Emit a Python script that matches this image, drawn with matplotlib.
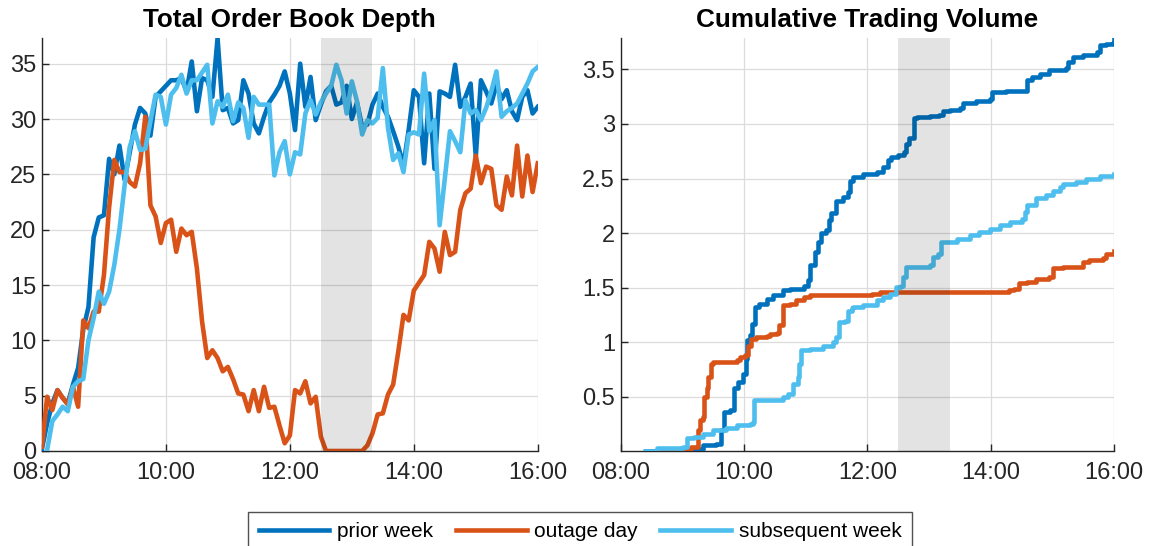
import numpy as np
import matplotlib
matplotlib.use('Agg')
from matplotlib import pyplot as plt

plt.rcParams['font.family'] = ['Liberation Sans', 'DejaVu Sans']

# ---- data: order book depth, 5 minute grid 08:00-16:00 (minutes after 08:00)
depth_minutes = np.arange(0, 481, 5)

prior_week_depth = [
    0.2, 2.5, 4.3, 5.5, 4.8, 4.3, 6.0, 7.5, 11.0, 13.0,
    19.3, 21.1, 21.3, 26.4, 25.0, 27.6, 24.5, 27.0, 29.5, 31.0,
    30.5, 28.5, 32.0, 32.5, 33.0, 33.5, 33.5, 33.7, 32.5, 35.2,
    30.7, 33.7, 33.5, 32.0, 37.3, 30.8, 31.0, 29.6, 29.9, 33.5,
    32.3, 29.6, 28.7, 30.2, 31.5, 32.2, 33.0, 34.3, 32.3, 29.0,
    35.0, 31.1, 33.8, 29.9, 31.3, 32.5, 33.0, 31.3, 31.5, 33.0,
    30.0, 31.5, 29.3, 29.5, 31.3, 32.3, 31.1, 30.2, 28.9, 27.5,
    25.8, 29.0, 32.6, 32.0, 26.0, 32.3, 25.5, 32.5, 32.3, 32.0,
    34.9, 31.1, 32.0, 33.2, 26.6, 33.5, 32.5, 31.4, 33.1, 31.8,
    32.6, 30.7, 29.9, 32.0, 32.6, 30.5, 31.1]

outage_day_depth = [
    0.4, 4.9, 3.7, 5.5, 4.8, 4.2, 5.8, 4.0, 11.8, 11.1,
    12.6, 12.6, 15.9, 22.0, 26.3, 25.2, 25.2, 24.3, 23.9, 26.0,
    30.2, 22.2, 21.2, 18.8, 20.6, 20.9, 18.0, 20.1, 19.5, 19.8,
    16.5, 11.7, 8.4, 9.1, 8.4, 7.2, 7.6, 6.5, 5.2, 5.1,
    3.6, 5.5, 3.6, 5.8, 3.9, 4.0, 2.3, 0.7, 1.4, 5.5,
    5.2, 6.3, 4.3, 4.9, 1.3, 0.0, 0.0, 0.0, 0.0, 0.0,
    0.0, 0.0, 0.0, 0.5, 1.6, 3.3, 3.4, 5.1, 6.0, 9.0,
    12.3, 11.8, 14.5, 15.2, 15.9, 18.9, 18.3, 16.2, 19.8, 17.7,
    18.0, 21.8, 23.3, 23.7, 26.7, 24.2, 25.7, 25.5, 22.2, 21.8,
    24.8, 23.1, 27.6, 23.0, 26.7, 23.4, 26.0]

subsequent_week_depth = [
    np.nan, 0.1, 2.7, 3.3, 4.0, 3.6, 5.8, 6.3, 6.5, 10.0,
    12.0, 14.4, 13.3, 14.4, 16.8, 20.0, 24.0, 27.5, 28.9, 27.2,
    27.3, 29.8, 32.2, 32.0, 29.5, 32.2, 32.8, 34.0, 32.3, 33.5,
    33.5, 34.2, 34.9, 29.6, 31.6, 31.1, 32.2, 29.8, 31.5, 31.0,
    28.3, 32.0, 31.3, 31.3, 31.3, 24.9, 27.0, 28.0, 25.0, 27.0,
    26.8, 30.5, 31.7, 30.4, 31.5, 32.3, 33.0, 34.9, 33.5, 30.5,
    33.4, 31.6, 28.6, 29.9, 29.6, 30.1, 34.6, 29.2, 26.3, 26.9,
    25.2, 28.6, 28.8, 28.6, 34.1, 28.9, 29.9, 20.4, 24.6, 28.9,
    28.0, 27.0, 31.7, 30.5, 30.8, 29.9, 31.0, 32.5, 34.3, 30.2,
    30.7, 31.0, 31.4, 32.3, 33.2, 34.3, 34.7]

# ---- data: cumulative trading volume (minutes after 08:00, volume)
prior_week_t = [25, 64, 80, 93, 98, 101, 106, 110, 114, 119, 122, 123, 126, 128,
                131, 135, 142, 148, 158, 165, 178, 182, 184, 189, 192, 195, 200,
                203, 205, 210, 216, 221, 223, 226, 236, 249, 255, 260, 263, 270,
                276, 278, 281, 285, 288, 301, 310, 314, 320, 330, 333, 346, 359,
                361, 375, 391, 395, 400, 408, 417, 433, 435, 440, 450, 463, 466,
                472, 479, 480]
prior_week_vol = [0.005, 0.02, 0.06, 0.07, 0.2, 0.36, 0.38, 0.58, 0.64, 0.71,
                  0.85, 1.02, 1.07, 1.17, 1.32, 1.355, 1.4, 1.43, 1.48, 1.49,
                  1.52, 1.57, 1.71, 1.83, 1.92, 2.0, 2.03, 2.12, 2.18, 2.29,
                  2.33, 2.38, 2.48, 2.51, 2.54, 2.56, 2.61, 2.67, 2.70, 2.72,
                  2.74, 2.82, 2.87, 3.05, 3.06, 3.07, 3.08, 3.12, 3.13, 3.15,
                  3.19, 3.21, 3.23, 3.29, 3.30, 3.30, 3.40, 3.43, 3.46, 3.49,
                  3.51, 3.57, 3.61, 3.63, 3.66, 3.72, 3.73, 3.74, 3.78]

outage_day_t = [27, 64, 69, 75, 77, 80, 81, 84, 85, 88, 90, 106, 113, 116, 121,
                124, 127, 132, 142, 145, 152, 154, 158, 165, 171, 178, 184, 245,
                252, 372, 378, 383, 388, 395, 404, 417, 421, 430, 450, 456, 469,
                472, 480]
outage_day_vol = [0.0, 0.02, 0.04, 0.2, 0.29, 0.32, 0.5, 0.58, 0.68, 0.8, 0.82,
                  0.82, 0.84, 0.87, 0.88, 0.97, 1.03, 1.05, 1.06, 1.08, 1.09,
                  1.16, 1.34, 1.355, 1.385, 1.415, 1.43, 1.44, 1.46, 1.46, 1.48,
                  1.49, 1.54, 1.55, 1.58, 1.60, 1.68, 1.69, 1.74, 1.75, 1.77,
                  1.81, 1.84]

subsequent_week_t = [24, 35, 61, 65, 71, 80, 90, 103, 113, 126, 129, 130, 145,
                     158, 163, 168, 173, 174, 176, 184, 197, 207, 210, 212, 218,
                     221, 225, 226, 236, 249, 255, 262, 268, 273, 275, 278, 301,
                     304, 309, 312, 327, 340, 349, 359, 369, 379, 390, 393, 395,
                     404, 414, 421, 427, 430, 443, 453, 466, 480]
subsequent_week_vol = [0.005, 0.03, 0.04, 0.12, 0.13, 0.16, 0.2, 0.22, 0.24,
                       0.25, 0.27, 0.47, 0.475, 0.5, 0.53, 0.62, 0.68, 0.8, 0.93,
                       0.94, 0.97, 1.0, 1.05, 1.19, 1.2, 1.29, 1.31, 1.32, 1.34,
                       1.385, 1.415, 1.445, 1.51, 1.52, 1.6, 1.69, 1.706, 1.78,
                       1.81, 1.92, 1.95, 1.98, 2.01, 2.04, 2.07, 2.10, 2.13, 2.19,
                       2.26, 2.32, 2.35, 2.39, 2.42, 2.45, 2.47, 2.50, 2.52, 2.54]

series_labels = ['prior week', 'outage day', 'subsequent week']
series_colors = ['#0072BD', '#D95319', '#4DBEEE']

outage_window = (270, 320)  # 12:30 - 13:20
time_ticks = [0, 120, 240, 360, 480]
time_labels = ['08:00', '10:00', '12:00', '14:00', '16:00']

# ---- figure
fig = plt.figure(figsize=(11.53, 5.46), dpi=100)
ax1 = fig.add_axes([0.0364, 0.174, 0.430, 0.756])
ax2 = fig.add_axes([0.5382, 0.174, 0.428, 0.756])

lw = 3.3
depth = [prior_week_depth, outage_day_depth, subsequent_week_depth]
for vals, lab, col in zip(depth, series_labels, series_colors):
    ax1.plot(depth_minutes, vals, color=col, lw=lw, label=lab, zorder=3)

vol = [(prior_week_t, prior_week_vol), (outage_day_t, outage_day_vol),
       (subsequent_week_t, subsequent_week_vol)]
for (t, v), col in zip(vol, series_colors):
    ax2.plot(t, v, color=col, lw=lw, drawstyle='steps-post', zorder=3)

for ax in (ax1, ax2):
    ax.axvspan(*outage_window, color='k', alpha=0.11, lw=0, zorder=4)
    ax.set_xlim(0, 480)
    ax.set_xticks(time_ticks)
    ax.set_xticklabels(time_labels)
    ax.grid(True, color='#dcdcdc', lw=0.9, zorder=0)
    ax.set_axisbelow(True)
    for s in ('top', 'right'):
        ax.spines[s].set_visible(False)
    for s in ('left', 'bottom'):
        ax.spines[s].set_color('#262626')
        ax.spines[s].set_linewidth(1.0)
    ax.tick_params(direction='in', length=5, width=1.0, colors='#262626',
                   labelsize=17)
    ax.tick_params(axis='x', pad=8)
    ax.tick_params(axis='y', pad=4)

ax1.set_ylim(0, 37.3)
ax1.set_yticks([0, 5, 10, 15, 20, 25, 30, 35])
ax2.set_ylim(0.005, 3.785)
ax2.set_yticks([0.5, 1, 1.5, 2, 2.5, 3, 3.5])
ax2.set_yticklabels(['0.5', '1', '1.5', '2', '2.5', '3', '3.5'])

ax1.set_title('Total Order Book Depth', fontsize=18.8, fontweight='bold', pad=8)
ax2.set_title('Cumulative Trading Volume', fontsize=18.8, fontweight='bold', pad=8)

leg = fig.legend(*ax1.get_legend_handles_labels(), loc='upper center',
                 bbox_to_anchor=(0.503, 0.063), ncol=3, fontsize=15,
                 frameon=True, fancybox=False, handlelength=3.4,
                 handletextpad=0.35, columnspacing=1.1, borderpad=0.5,
                 borderaxespad=0)
leg.get_frame().set_edgecolor('#262626')
leg.get_frame().set_linewidth(1.0)

fig.savefig('out.png', dpi=100)
